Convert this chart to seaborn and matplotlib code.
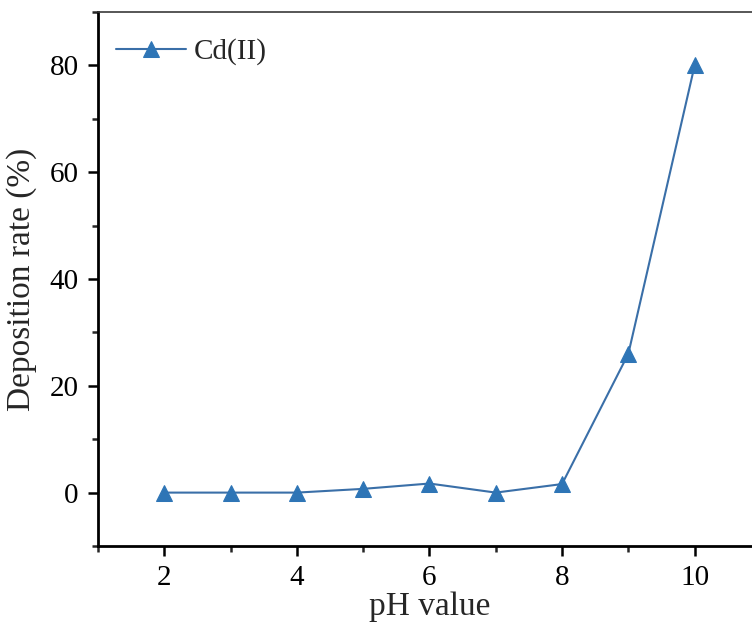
import matplotlib
matplotlib.use("Agg")
import matplotlib.pyplot as plt
from matplotlib.ticker import MultipleLocator
import seaborn as sns
import pandas as pd

ph_values = [2, 3, 4, 5, 6, 7, 8, 9, 10]
deposition_rate = [0.0, 0.0, 0.0, 0.7, 1.7, 0.0, 1.6, 26.0, 80.0]
series_name = "Cd(II)"

df = pd.DataFrame({"pH": ph_values, "rate": deposition_rate, "series": series_name})

sns.set_style("ticks")
plt.rcParams["font.family"] = ["Liberation Serif", "DejaVu Serif"]

fig = plt.figure(figsize=(7.52, 6.31), dpi=100)
ax = fig.add_axes([0.1303, 0.1347, 0.8816, 0.8463])

line_color = "#3a6fa8"
marker_color = "#2e75b6"
sns.lineplot(data=df, x="pH", y="rate", hue="series", palette=[line_color],
             marker="^", markersize=11, markerfacecolor=marker_color,
             markeredgecolor=marker_color, linewidth=1.5, ax=ax)

ax.set_xlim(1, 11)
ax.set_ylim(-10, 90)
ax.xaxis.set_major_locator(MultipleLocator(2))
ax.xaxis.set_minor_locator(MultipleLocator(1))
ax.yaxis.set_major_locator(MultipleLocator(20))
ax.yaxis.set_minor_locator(MultipleLocator(10))

ax.tick_params(which="major", direction="out", length=7, width=1.8, labelsize=21,
               colors="black", pad=7)
ax.tick_params(which="minor", direction="out", length=4, width=1.8)

for side in ("left", "bottom"):
    ax.spines[side].set_linewidth(2)
    ax.spines[side].set_color("black")
ax.spines["top"].set_linewidth(1.2)
ax.spines["top"].set_color("#3a3a3a")
ax.spines["right"].set_visible(False)

ax.set_xlabel("pH value", fontsize=24, labelpad=0)
ax.set_ylabel("Deposition rate (%)", fontsize=24, labelpad=9)

leg = ax.legend(loc="upper left", frameon=False, fontsize=21, handlelength=2.4,
                handletextpad=0.25, borderaxespad=0.5, bbox_to_anchor=(-0.012, 1.0))

fig.savefig("out.png", dpi=100)
